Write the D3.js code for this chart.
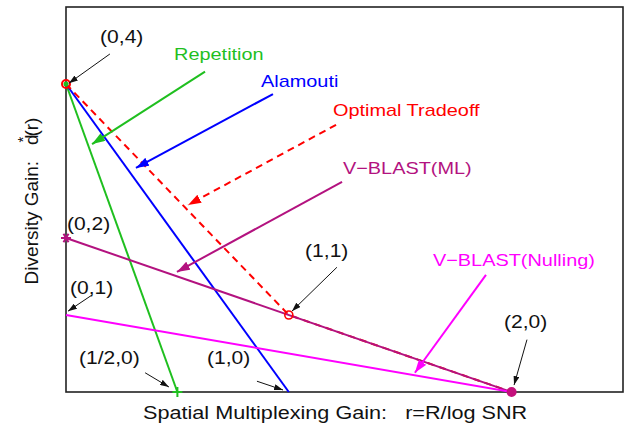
<!DOCTYPE html>
<html>
<head>
<meta charset="utf-8">
<script src="https://cdn.jsdelivr.net/npm/d3@7"></script>
<style>
  body { margin: 0; background: #fff; }
  text { font-family: "Liberation Sans", Arial, sans-serif; }
</style>
</head>
<body>
<div id="chart"></div>
<script>
// tradeoff curves, (r, d) points
const repetition = [[0, 4], [0.5, 0]];
const alamouti = [[0, 4], [1, 0]];
const optimalTradeoff = [[0, 4], [1, 1], [2, 0]];
const vblastML = [[0, 2], [2, 0]];
const vblastNulling = [[0, 1], [2, 0]];

const seriesNames = ["Repetition", "Alamouti", "Optimal Tradeoff", "V\u2212BLAST(ML)", "V\u2212BLAST(Nulling)"];
const seriesColors = ["#1fbf1f", "#0000ff", "#ff0000", "#b3127f", "#ff00ff"];

// curve name arrows: label pos, arrow start, arrow end (data units)
const nameLabelAt = [[0.485, 4.31], [0.875, 3.96], [1.198, 3.58], [1.243, 2.83], [1.647, 1.64]];
const nameArrowFrom = [[0.624, 4.16], [0.929, 3.87], [1.212, 3.47], [1.239, 2.73], [1.885, 1.52]];
const nameArrowTo = [[0.117, 3.22], [0.314, 2.91], [0.548, 2.43], [0.498, 1.56], [1.566, 0.25]];

// corner point labels
const pointLabels = ["(0,4)", "(0,2)", "(0,1)", "(1,1)", "(2,0)", "(1/2,0)", "(1,0)"];
const pointLabelAt = [[0.153, 4.53], [0.004, 2.10], [0.018, 1.27], [1.073, 1.75], [1.966, 0.83], [0.058, 0.36], [0.633, 0.36]];
const pointArrowFrom = [[0.197, 4.39], null, [0.117, 1.26], [1.216, 1.62], [2.069, 0.68], [0.355, 0.25], [0.857, 0.14]];
const pointArrowTo = [[0.013, 4.01], null, [0.009, 1.05], [1.014, 1.05], [2.011, 0.09], [0.462, 0.065], [0.974, 0.026]];

const xDomain = [0, 2.5];
const yDomain = [0, 5];

const width = 630, height = 426;
const margin = {top: 7, right: 7, bottom: 34, left: 66};
const stretch = 1.17; // text in the source is a bit wide

const svg = d3.select("#chart").append("svg")
  .attr("width", width)
  .attr("height", height);

const x = d3.scaleLinear().domain(xDomain).range([margin.left, width - margin.right]);
const y = d3.scaleLinear().domain(yDomain).range([height - margin.bottom, margin.top]);

// arrow heads
const defs = svg.append("defs");
function addMarker(id, color, len, wid) {
  defs.append("marker")
    .attr("id", id)
    .attr("markerUnits", "userSpaceOnUse")
    .attr("viewBox", "0 0 " + len + " " + wid)
    .attr("refX", len)
    .attr("refY", wid / 2)
    .attr("markerWidth", len)
    .attr("markerHeight", wid)
    .attr("orient", "auto")
    .append("path")
    .attr("d", "M0,0L" + len + "," + (wid / 2) + "L0," + wid + "Z")
    .attr("fill", color);
}
seriesColors.forEach((c, i) => addMarker("head" + i, c, 13, 9));
addMarker("headBlack", "#111", 9, 6);

// frame
svg.append("rect")
  .attr("x", x(xDomain[0]))
  .attr("y", y(yDomain[1]))
  .attr("width", x(xDomain[1]) - x(xDomain[0]))
  .attr("height", y(yDomain[0]) - y(yDomain[1]))
  .attr("fill", "none")
  .attr("stroke", "#222")
  .attr("stroke-width", 1.6);

const line = d3.line().x(d => x(d[0])).y(d => y(d[1]));
const allSeries = [repetition, alamouti, optimalTradeoff, vblastML, vblastNulling];

allSeries.forEach((s, i) => {
  svg.append("path")
    .datum(s)
    .attr("d", line)
    .attr("fill", "none")
    .attr("stroke", seriesColors[i])
    .attr("stroke-width", 2)
    .attr("stroke-dasharray", i == 2 ? "7,5" : null);
});

// point markers
svg.append("circle") // green start of repetition
  .attr("cx", x(repetition[0][0])).attr("cy", y(repetition[0][1]))
  .attr("r", 2.5).attr("fill", seriesColors[0]);
svg.append("circle")
  .attr("cx", x(optimalTradeoff[0][0])).attr("cy", y(optimalTradeoff[0][1]))
  .attr("r", 4).attr("fill", "none").attr("stroke", seriesColors[2]).attr("stroke-width", 2);
svg.append("circle")
  .attr("cx", x(optimalTradeoff[1][0])).attr("cy", y(optimalTradeoff[1][1]))
  .attr("r", 4).attr("fill", "none").attr("stroke", seriesColors[2]).attr("stroke-width", 1.6);
svg.append("circle")
  .attr("cx", x(vblastML[1][0])).attr("cy", y(vblastML[1][1]))
  .attr("r", 5).attr("fill", "#c4107c");
// star at (0,2)
const sx = x(vblastML[0][0]), sy = y(vblastML[0][1]);
[0, 60, 120].forEach(a => {
  const r = 5, t = a * Math.PI / 180;
  svg.append("line")
    .attr("x1", sx - r * Math.cos(t)).attr("y1", sy - r * Math.sin(t))
    .attr("x2", sx + r * Math.cos(t)).attr("y2", sy + r * Math.sin(t))
    .attr("stroke", seriesColors[3]).attr("stroke-width", 2);
});
// plus at (1/2,0)
const px = x(repetition[1][0]), py = y(repetition[1][1]);
svg.append("path")
  .attr("d", "M" + (px - 5) + "," + py + "h10M" + px + "," + (py - 5) + "v10")
  .attr("stroke", seriesColors[0]).attr("stroke-width", 2);

function stretchedText(px, py, str, size, color) {
  return svg.append("text")
    .attr("transform", "translate(" + px + "," + py + ") scale(" + stretch + ",1)")
    .attr("font-size", size)
    .attr("fill", color)
    .text(str);
}

// curve names with arrows
seriesNames.forEach((n, i) => {
  stretchedText(x(nameLabelAt[i][0]), y(nameLabelAt[i][1]), n, 17, seriesColors[i]);
  svg.append("line")
    .attr("x1", x(nameArrowFrom[i][0])).attr("y1", y(nameArrowFrom[i][1]))
    .attr("x2", x(nameArrowTo[i][0])).attr("y2", y(nameArrowTo[i][1]))
    .attr("stroke", seriesColors[i])
    .attr("stroke-width", 2)
    .attr("stroke-dasharray", i == 2 ? "7,5" : null)
    .attr("marker-end", "url(#head" + i + ")");
});

// corner point labels
pointLabels.forEach((p, i) => {
  stretchedText(x(pointLabelAt[i][0]), y(pointLabelAt[i][1]), p, 18, "#111");
  if (pointArrowFrom[i]) {
    svg.append("line")
      .attr("x1", x(pointArrowFrom[i][0])).attr("y1", y(pointArrowFrom[i][1]))
      .attr("x2", x(pointArrowTo[i][0])).attr("y2", y(pointArrowTo[i][1]))
      .attr("stroke", "#111")
      .attr("stroke-width", 1)
      .attr("marker-end", "url(#headBlack)");
  }
});

// axis titles
stretchedText(143, 419, "Spatial Multiplexing Gain:\u00a0\u00a0\u00a0r=R/log SNR", 18.5, "#111");

const yt = svg.append("text")
  .attr("transform", "translate(38,201) rotate(-90)")
  .attr("text-anchor", "middle")
  .attr("font-size", 19)
  .attr("fill", "#111");
yt.append("tspan").text("Diversity Gain:\u00a0\u00a0\u00a0d");
yt.append("tspan").attr("dx", -8).attr("dy", -10).attr("font-size", 15).text("*");
yt.append("tspan").attr("dy", 10).text("(r)");
</script>
</body>
</html>
